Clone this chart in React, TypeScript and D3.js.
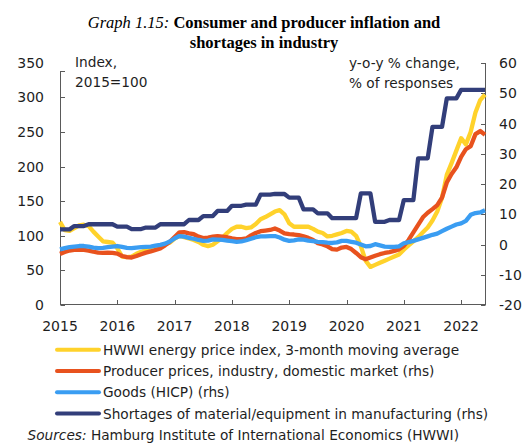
import React from "react";
import * as d3 from "d3";

// Monthly observations, Jan 2015 .. Jun 2022
const startYear = 2015;
const yearTicks = [2015, 2016, 2017, 2018, 2019, 2020, 2021, 2022];
const leftTicks = [0, 50, 100, 150, 200, 250, 300, 350];
const rightTicks = [-20, -10, 0, 10, 20, 30, 40, 50, 60];

// HWWI energy price index, 3-month moving average (lhs, 2015=100)
const hwwi = [
  120, 108, 107, 111, 115, 116, 114, 106, 99, 92, 91, 90,
  82, 70, 69, 70, 74, 77, 79, 81, 83, 85, 88, 90,
  96, 100, 98, 96, 94, 91, 87, 85, 87, 92, 97, 104,
  110, 113, 113, 111, 112, 117, 124, 127, 131, 135, 137, 131,
  118, 113, 113, 113, 113, 110, 106, 104, 99, 100, 102, 104,
  107, 106, 100, 85, 64, 55, 58, 61, 64, 67, 70, 73,
  80, 86, 92, 98, 105, 112, 122, 135, 155, 188, 205, 223,
  241, 232, 250, 278, 296, 304,
];

// Producer prices, industry, domestic market (rhs, y-o-y %)
const ppi = [
  -3.1, -2.5, -2.0, -1.8, -1.7, -1.8, -2.0, -2.4, -2.7, -2.8, -2.7, -2.8,
  -3.0, -3.8, -4.2, -4.3, -3.8, -3.2, -2.7, -2.3, -1.8, -1.3, -0.3, 0.9,
  2.5, 4.0, 4.1, 3.7, 3.4, 2.6, 2.1, 2.3, 2.6, 2.8, 2.6, 2.4,
  2.0, 1.8, 1.8, 2.0, 3.0, 3.8, 4.4, 4.6, 4.8, 5.3, 4.6, 3.7,
  3.4, 3.3, 3.1, 2.7, 2.2, 1.5, 0.4, 0.0, -0.6, -1.5, -1.7, -1.0,
  -0.8, -1.5, -2.8, -4.2, -4.9, -4.3, -3.7, -3.2, -2.8, -2.5, -2.1, -1.6,
  -0.5, 1.5, 4.0, 6.5, 9.0, 10.5, 11.7, 13.0, 15.5, 20.5, 23.3, 25.5,
  29.0, 31.5, 32.5, 36.5, 37.5, 36.3,
];

// Goods (HICP) (rhs, y-o-y %)
const goods = [
  -1.6, -1.2, -0.9, -0.7, -0.5, -0.5, -0.7, -1.0, -1.2, -1.1, -0.9, -0.7,
  -0.5, -0.8, -1.1, -1.2, -1.0, -0.9, -0.8, -0.7, -0.4, -0.1, 0.3, 1.0,
  2.0, 2.8, 2.6, 2.2, 1.9, 1.5, 1.2, 1.3, 1.7, 1.6, 1.5, 1.3,
  1.1, 0.9, 1.0, 1.4, 1.9, 2.4, 2.7, 2.7, 2.8, 2.8, 2.3, 1.6,
  1.2, 1.4, 1.7, 1.6, 1.3, 1.1, 0.9, 0.8, 0.6, 0.5, 0.7, 1.2,
  1.2, 0.9, 0.6, 0.0, -0.6, -0.5, 0.1, -0.3, -0.7, -0.8, -0.8, -0.6,
  0.4, 0.8, 1.2, 1.7, 2.2, 2.7, 3.2, 3.6, 4.4, 5.2, 5.9, 6.6,
  7.0, 7.8, 9.8, 10.4, 10.6, 11.3,
];

// Shortages of material/equipment in manufacturing (rhs, % of responses), quarterly
const shortagesQuarterly = [
  5.0, 6.1, 6.7, 6.7,
  5.9, 5.1, 5.6, 6.7,
  6.7, 8.1, 9.4, 11.1,
  12.8, 13.2, 16.5, 16.7,
  15.5, 11.6, 10.3, 8.7,
  8.7, 16.9, 7.5, 8.1,
  14.7, 28.5, 38.9, 48.3,
  51.1, 51.1,
];

const seriesNames = [
  "HWWI energy price index, 3-month moving average",
  "Producer prices, industry, domestic market (rhs)",
  "Goods (HICP) (rhs)",
  "Shortages of material/equipment in manufacturing (rhs)",
];
const seriesColors = ["#FFD22B", "#E8521E", "#3A9DF2", "#323E7A"];

const FONT = "'DejaVu Sans', sans-serif";

export default function App() {
  const n = hwwi.length;
  const x = d3.scaleLinear().domain([0, n - 1]).range([60, 485]);
  const yL = d3.scaleLinear().domain([0, 350]).range([305, 62.7]);
  const yR = d3.scaleLinear().domain([-20, 60]).range([305, 63]);

  const shortages = d3.range(n).map((i) => shortagesQuarterly[Math.floor(i / 3)]);

  const lineL = d3.line<number>().x((_, i) => x(i)).y((d) => yL(d)).curve(d3.curveLinear);
  const lineR = d3.line<number>().x((_, i) => x(i)).y((d) => yR(d)).curve(d3.curveLinear);

  const paths = [lineL(hwwi), lineR(ppi), lineR(goods), lineR(shortages)];

  const axisColor = "#5a5a5a";
  const textColor = "#1e1e1e";
  const x0 = x.range()[0];
  const x1 = x.range()[1];
  const yBottom = 305;

  return (
    <svg
      width={529}
      height={443}
      style={{ position: "absolute", left: 0, top: 0, background: "#fff" }}
    >
      {/* Title */}
      <text x={264} y={28} textAnchor="middle" fontFamily="'Liberation Serif', serif" fontSize={16.5} fill="#000">
        <tspan fontStyle="italic">Graph 1.15: </tspan>
        <tspan fontWeight="bold">Consumer and producer inflation and</tspan>
      </text>
      <text x={264} y={47.5} textAnchor="middle" fontFamily="'Liberation Serif', serif" fontSize={16.5} fontWeight="bold" fill="#000">
        shortages in industry
      </text>

      {/* Axis unit notes */}
      <text fontFamily={FONT} fontSize={13.7} fill={textColor}>
        <tspan x={75} y={66.5}>Index,</tspan>
        <tspan x={75} y={87}>2015=100</tspan>
      </text>
      <text fontFamily={FONT} fontSize={13.7} fill={textColor}>
        <tspan x={349} y={68}>y-o-y % change,</tspan>
        <tspan x={349} y={88}>% of responses</tspan>
      </text>

      {/* Left axis */}
      <line x1={x0 + 0.5} x2={x0 + 0.5} y1={71} y2={yBottom} stroke={axisColor} strokeWidth={1} />
      <line x1={x0 + 0.5} x2={x0 + 5} y1={71.5} y2={71.5} stroke={axisColor} strokeWidth={1} />
      {leftTicks.map((t) => (
        <g key={"l" + t}>
          {t < 350 && (
            <line x1={x0 + 0.5} x2={x0 + 5} y1={Math.round(yL(t)) + 0.5} y2={Math.round(yL(t)) + 0.5} stroke={axisColor} strokeWidth={1} />
          )}
          <text x={44} y={yL(t) + 5} textAnchor="end" fontFamily={FONT} fontSize={14} fill={textColor}>
            {t}
          </text>
        </g>
      ))}

      {/* Right axis */}
      <line x1={x1 + 0.5} x2={x1 + 0.5} y1={yR(60)} y2={yBottom} stroke={axisColor} strokeWidth={1} />
      {rightTicks.map((t) => (
        <g key={"r" + t}>
          <line x1={x1 - 4} x2={x1 + 0.5} y1={Math.round(yR(t)) + 0.5} y2={Math.round(yR(t)) + 0.5} stroke={axisColor} strokeWidth={1} />
          <text x={499} y={yR(t) + 5} textAnchor="start" fontFamily={FONT} fontSize={14} fill={textColor}>
            {t}
          </text>
        </g>
      ))}

      {/* Bottom axis */}
      <line x1={x0} x2={x1 + 1} y1={yBottom - 0.5} y2={yBottom - 0.5} stroke={axisColor} strokeWidth={1} />
      {yearTicks.map((yr) => {
        const px = x((yr - startYear) * 12);
        return (
          <g key={"x" + yr}>
            <line x1={Math.round(px) + 0.5} x2={Math.round(px) + 0.5} y1={yBottom - 5} y2={yBottom} stroke={axisColor} strokeWidth={1} />
            <text x={px} y={331} textAnchor="middle" fontFamily={FONT} fontSize={14} fill={textColor}>
              {yr}
            </text>
          </g>
        );
      })}

      {/* Series */}
      {paths.map((p, i) => (
        <path
          key={"s" + i}
          d={p || ""}
          fill="none"
          stroke={seriesColors[i]}
          strokeWidth={4.3}
          strokeLinejoin="round"
          strokeLinecap="butt"
        />
      ))}

      {/* Legend */}
      {seriesNames.map((name, i) => {
        const ly = 349.7 + i * 21.3;
        return (
          <g key={"lg" + i}>
            <line x1={57} x2={99} y1={ly} y2={ly} stroke={seriesColors[i]} strokeWidth={4} strokeLinecap="round" />
            <text x={103} y={ly + 5} fontFamily={FONT} fontSize={13.7} fill={textColor}>
              {name}
            </text>
          </g>
        );
      })}

      {/* Source */}
      <text x={27.5} y={439.5} fontFamily={FONT} fontSize={13.7} fill={textColor}>
        <tspan fontStyle="italic">Sources: </tspan>
        <tspan>Hamburg Institute of International Economics (HWWI)</tspan>
      </text>
    </svg>
  );
}
